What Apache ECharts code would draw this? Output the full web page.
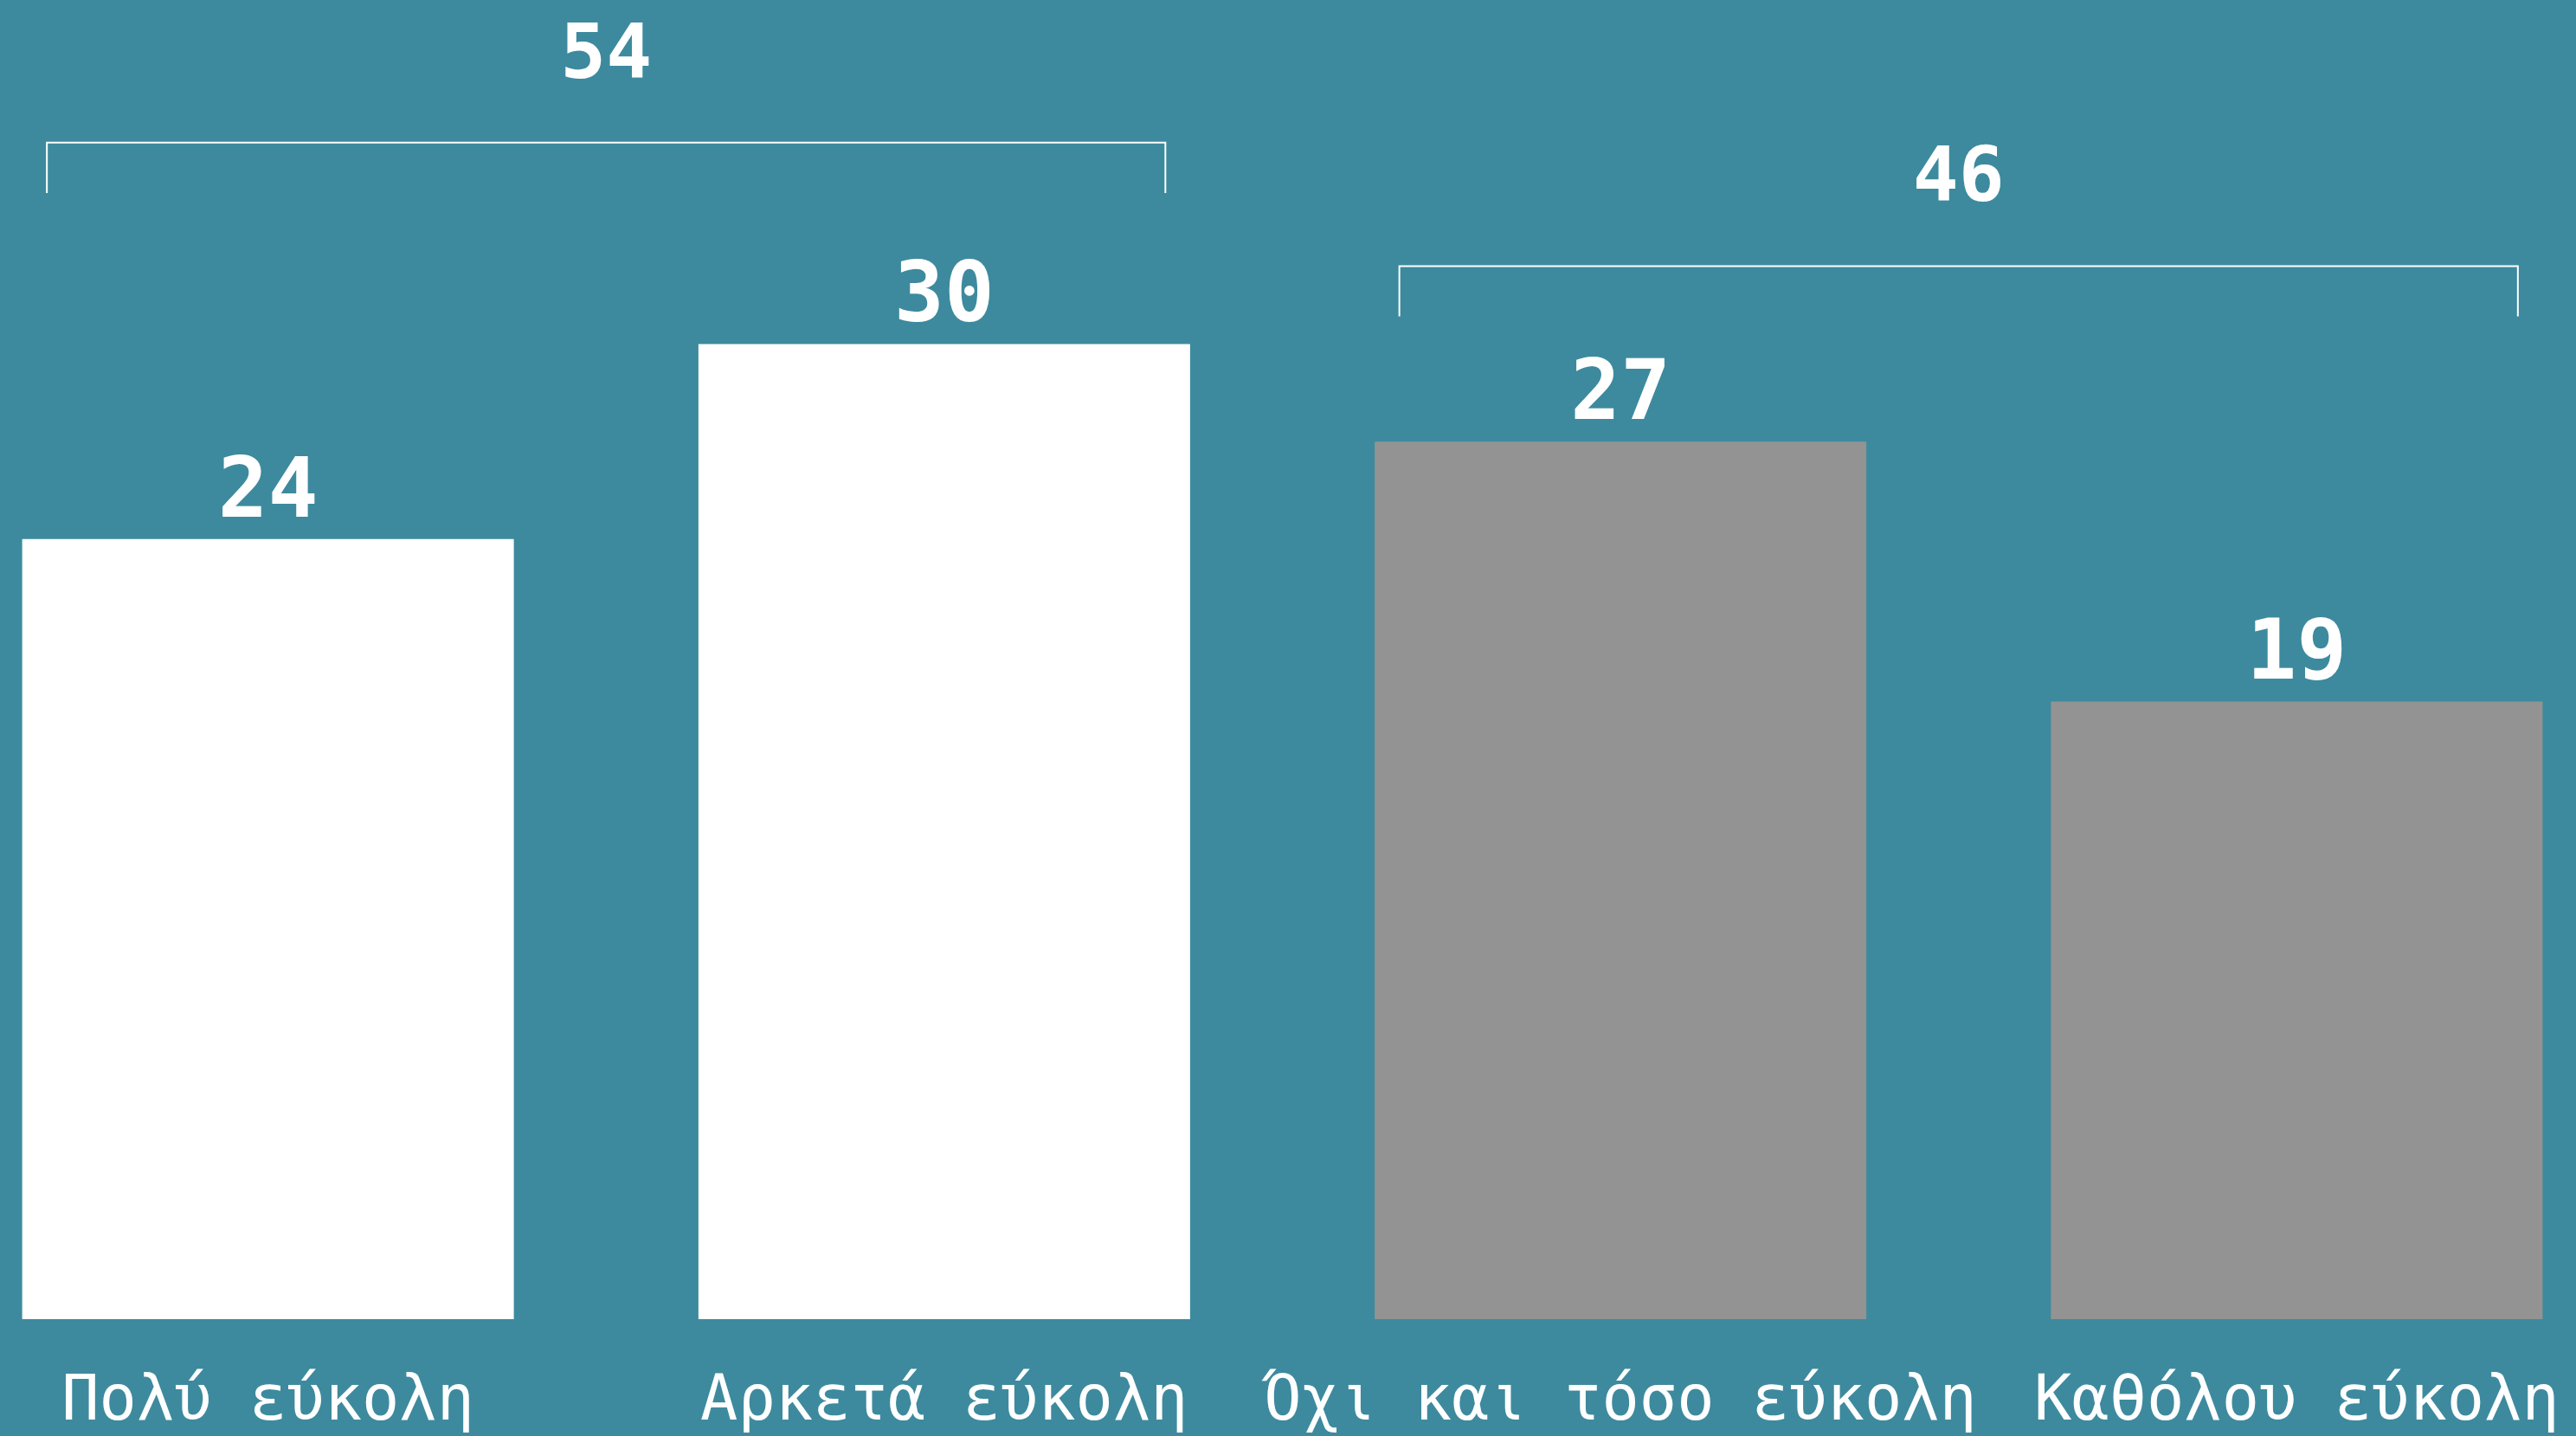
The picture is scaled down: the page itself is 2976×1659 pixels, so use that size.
<!DOCTYPE html>
<html>
<head>
<meta charset="utf-8">
<script src="https://cdn.jsdelivr.net/npm/echarts@6/dist/echarts.min.js"></script>
<style>
html,body{margin:0;padding:0;background:#3d8a9e;overflow:hidden;width:2976px;height:1659px;}
#chart{position:absolute;left:-81px;top:0;width:3125px;height:1659px;}
</style>
</head>
<body>
<div id="chart"></div>
<script>
const categories = ['Πολύ εύκολη', 'Αρκετά εύκολη', 'Όχι και τόσο εύκολη', 'Καθόλου εύκολη'];
const values = [24, 30, 27, 19];
const barColors = ['#ffffff', '#ffffff', '#939393', '#939393'];
const groupStart = [0, 2];
const groupEnd = [1, 3];
const groupTotals = [54, 46];
const bracketLevels = [36.2, 32.4];

const bracketData = groupTotals.map((t, i) => [groupStart[i], groupEnd[i], bracketLevels[i], t]);

const chart = echarts.init(document.getElementById('chart'));
chart.setOption({
  backgroundColor: '#3d8a9e',
  animation: false,
  grid: { left: 0, right: 0, top: 22, bottom: 135, containLabel: false },
  xAxis: {
    type: 'category',
    data: categories,
    axisLine: { show: false },
    axisTick: { show: false },
    axisLabel: {
      color: '#ffffff',
      fontFamily: 'DejaVu Sans Mono',
      fontSize: 72,
      margin: 61,
      interval: 0
    }
  },
  yAxis: {
    type: 'value',
    min: 0,
    max: 40,
    show: false,
    splitLine: { show: false }
  },
  series: [
    {
      type: 'bar',
      barWidth: 568,
      data: values.map((v, i) => ({ value: v, itemStyle: { color: barColors[i] } })),
      label: {
        show: true,
        position: 'top',
        distance: 3,
        color: '#ffffff',
        fontFamily: 'DejaVu Sans Mono',
        fontWeight: 'bold',
        fontSize: 96
      }
    },
    {
      type: 'custom',
      clip: false,
      encode: { x: 0, y: 2 },
      data: bracketData,
      renderItem: function (params, api) {
        const p0 = api.coord([api.value(0), api.value(2)]);
        const p1 = api.coord([api.value(1), api.value(2)]);
        const band = api.size([1, 0])[0];
        const ext = band * 0.327;
        const x0 = p0[0] - ext, x1 = p1[0] + ext, y = p0[1];
        const tick = api.size([0, 1.55])[1];
        return {
          type: 'group',
          children: [
            {
              type: 'polyline',
              shape: { points: [[x0, y + tick], [x0, y], [x1, y], [x1, y + tick]] },
              style: { stroke: '#ffffff', lineWidth: 2, fill: null }
            },
            {
              type: 'text',
              style: {
                x: (x0 + x1) / 2,
                y: y - 54,
                text: String(api.value(3)),
                fill: '#ffffff',
                fontFamily: 'DejaVu Sans Mono',
                fontWeight: 'bold',
                fontSize: 88,
                align: 'center',
                verticalAlign: 'bottom'
              }
            }
          ]
        };
      }
    }
  ]
});
</script>
</body>
</html>
